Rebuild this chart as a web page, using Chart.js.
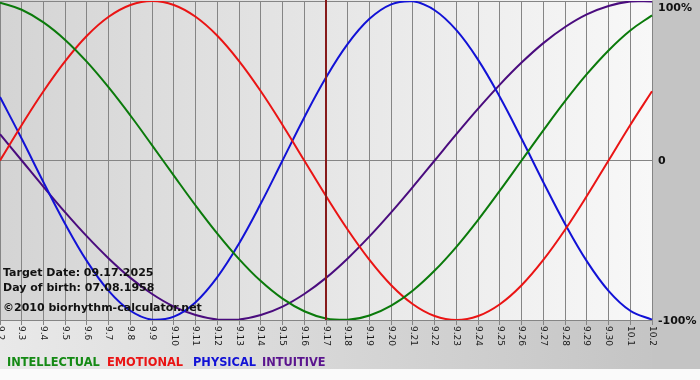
<!DOCTYPE html>
<html>
<head>
<meta charset="utf-8">
<script src="https://cdn.jsdelivr.net/npm/chart.js@4"></script>
<style>
  html, body { margin: 0; padding: 0; background: #fff; }
  canvas { display: block; }
</style>
</head>
<body>
<canvas id="bioChart" width="700" height="380"></canvas>
<script>
// dates on the x axis (month.day)
const dates = ["9.2", "9.3", "9.4", "9.5", "9.6", "9.7", "9.8", "9.9", "9.10", "9.11",
  "9.12", "9.13", "9.14", "9.15", "9.16", "9.17", "9.18", "9.19", "9.20", "9.21",
  "9.22", "9.23", "9.24", "9.25", "9.26", "9.27", "9.28", "9.29", "9.30", "10.1", "10.2"];

// cycle values in %
const intellectual = [99.0, 94.5, 86.6, 75.6, 61.8, 45.8, 28.2, 9.5, -9.5, -28.2, -45.8,
  -61.8, -75.6, -86.6, -94.5, -99.0, -99.9, -97.2, -91.0, -81.5, -69.0, -54.1, -37.2,
  -18.9, 0, 18.9, 37.2, 54.1, 69.0, 81.5, 91.0];
const emotional = [0, 22.3, 43.4, 62.3, 78.2, 90.1, 97.5, 100, 97.5, 90.1, 78.2, 62.3,
  43.4, 22.3, 0, -22.3, -43.4, -62.3, -78.2, -90.1, -97.5, -100, -97.5, -90.1, -78.2,
  -62.3, -43.4, -22.3, 0, 22.3, 43.4];
const physical = [39.8, 13.6, -13.6, -39.8, -63.1, -81.7, -94.2, -99.8, -97.9, -88.8,
  -73.1, -52.0, -27.0, 0, 27.0, 52.0, 73.1, 88.8, 97.9, 99.8, 94.2, 81.7, 63.1, 39.8,
  13.6, -13.6, -39.8, -63.1, -81.7, -94.2, -99.8];
const intuitive = [16.5, 0, -16.5, -32.5, -47.6, -61.4, -73.6, -83.7, -91.6, -96.9, -99.7,
  -99.7, -96.9, -91.6, -83.7, -73.6, -61.4, -47.6, -32.5, -16.5, 0, 16.5, 32.5, 47.6,
  61.4, 73.6, 83.7, 91.6, 96.9, 99.7, 99.7];

const yTicks = [-100, 0, 100];
const yTickLabels = ["-100%", "0", "100%"];
const targetDate = "9.17";
const infoLines = ["Target Date: 09.17.2025", "Day of birth: 07.08.1958", "\u00a92010 biorhythm-calculator.net"];

const GRID = "#858585";
const BOLD = "bold 11px 'DejaVu Sans', Verdana, sans-serif";

// backgrounds, labels, target line, texts
const decorPlugin = {
  id: "decor",
  beforeDraw(chart) {
    const { ctx, chartArea: a, width, height } = chart;
    ctx.save();
    ctx.fillStyle = "#fafafa";
    ctx.fillRect(0, 0, width, height);
    let g = ctx.createLinearGradient(0, 0, width, 0);
    g.addColorStop(0, "#e9e9e9");
    g.addColorStop(1, "#c2c2c2");
    ctx.fillStyle = g;
    ctx.fillRect(0, a.bottom, width, 369 - a.bottom);
    ctx.fillStyle = "#c4c4c4";
    ctx.fillRect(a.right, 0, width - a.right, 369);
    g = ctx.createLinearGradient(a.left, 0, a.right, 0);
    g.addColorStop(0, "#d4d4d4");
    g.addColorStop(1, "#f8f8f8");
    ctx.fillStyle = g;
    ctx.fillRect(a.left, a.top - 1, a.right - a.left, a.bottom - a.top + 1);
    ctx.restore();
  },
  afterDatasetsDraw(chart) {
    const { ctx, chartArea: a, scales } = chart;
    const x = scales.x, y = scales.y;
    ctx.save();
    // target date line
    const tx = Math.round(x.getPixelForValue(dates.indexOf(targetDate)));
    ctx.strokeStyle = "#861a1a";
    ctx.lineWidth = 2;
    ctx.beginPath();
    ctx.moveTo(tx, 0);
    ctx.lineTo(tx, a.bottom);
    ctx.stroke();

    // x labels, rotated clockwise
    ctx.fillStyle = "#1a1a1a";
    ctx.font = "9px 'DejaVu Sans', Verdana, sans-serif";
    ctx.textAlign = "left";
    ctx.textBaseline = "middle";
    x.ticks.forEach((t, i) => {
      const px = x.getPixelForTick(i);
      ctx.save();
      ctx.translate(px, a.bottom + 6);
      ctx.rotate(Math.PI / 2);
      ctx.fillText(dates[i], 0, 0);
      ctx.restore();
    });

    // y labels on the right
    ctx.fillStyle = "#111";
    ctx.font = BOLD;
    yTicks.forEach((v, i) => {
      const py = Math.max(y.getPixelForValue(v), 7);
      ctx.fillText(yTickLabels[i], a.right + 6, py + 1);
    });

    // info texts
    ctx.textBaseline = "alphabetic";
    ctx.fillText(infoLines[0], 3, 276);
    ctx.fillText(infoLines[1], 3, 291);
    ctx.fillText(infoLines[2], 3, 311);

    // legend
    ctx.font = "bold 11.4px 'DejaVu Sans', Verdana, sans-serif";
    const legendX = [7, 107, 193, 262];
    chart.data.datasets.forEach((ds, i) => {
      ctx.fillStyle = ds.legendColor;
      ctx.fillText(ds.label, legendX[i], 366);
    });
    ctx.restore();
  },
};

const ctx = document.getElementById("bioChart").getContext("2d");
const bioChart = new Chart(ctx, {
  type: "line",
  data: {
    labels: dates,
    datasets: [
      { label: "INTELLECTUAL", data: intellectual, borderColor: "#0b7a0b", legendColor: "#148a14" },
      { label: "EMOTIONAL", data: emotional, borderColor: "#ea1414", legendColor: "#ea1414" },
      { label: "PHYSICAL", data: physical, borderColor: "#1212d6", legendColor: "#1212d6" },
      { label: "INTUITIVE", data: intuitive, borderColor: "#4a0c7e", legendColor: "#5a148e" },
    ],
  },
  options: {
    responsive: false,
    animation: false,
    layout: { padding: { top: 1 } },
    elements: {
      line: { borderWidth: 2, tension: 0.4, fill: false },
      point: { radius: 0 },
    },
    plugins: {
      legend: { display: false },
      tooltip: { enabled: false },
    },
    scales: {
      x: {
        grid: { color: GRID, lineWidth: 1, tickLength: 5, tickColor: GRID },
        border: { color: GRID },
        ticks: { display: false, autoSkip: false },
        afterFit(scale) {
          scale.height = 60;
        },
      },
      y: {
        position: "right",
        min: -100,
        max: 100,
        afterBuildTicks(scale) {
          scale.ticks = yTicks.map((v) => ({ value: v }));
        },
        grid: { color: GRID, drawTicks: false },
        border: { color: GRID },
        ticks: { display: false },
        afterFit(scale) {
          scale.width = 48;
        },
      },
    },
  },
  plugins: [decorPlugin],
});
</script>
</body>
</html>
